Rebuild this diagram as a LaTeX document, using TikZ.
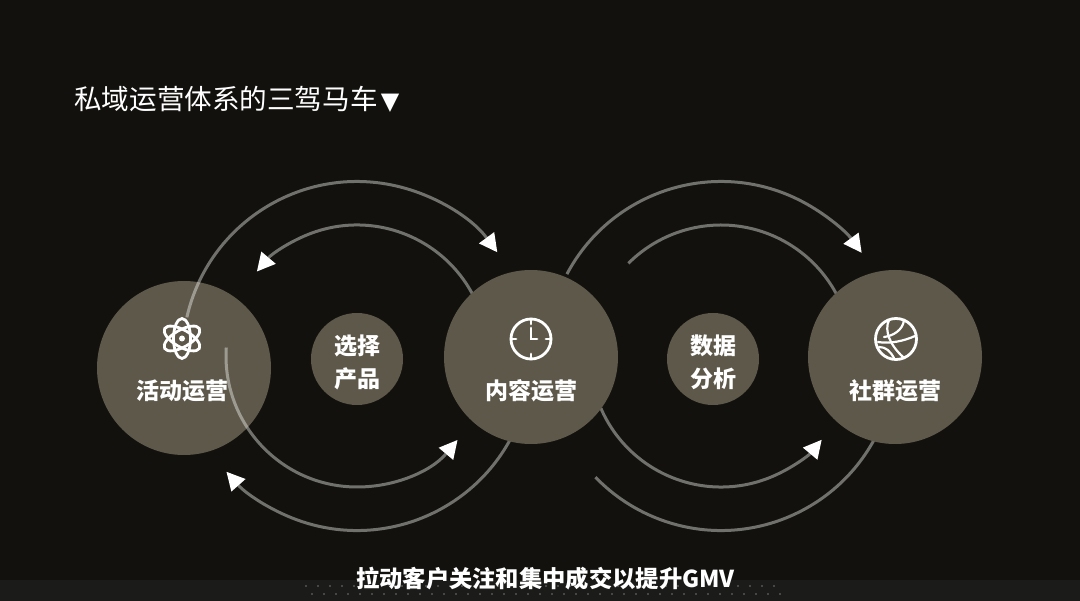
\documentclass[tikz,border=0pt]{standalone}
\usepackage{fontspec}
\setmainfont{Noto Sans CJK SC}
\newfontfamily\symfont{DejaVu Sans}
\usetikzlibrary{arrows.meta,positioning}
\definecolor{pagebg}{HTML}{12110D}
\definecolor{stripbg}{HTML}{1B1B1A}
\definecolor{discfill}{HTML}{5D584A}
\tikzset{
  bigdisc/.style={circle,fill=discfill,minimum size=174pt,inner sep=0pt},
  smalldisc/.style={circle,fill=discfill,minimum size=92pt,inner sep=0pt},
  disclabel/.style={text=white,inner sep=0pt,align=center,font=\fontsize{23pt}{33pt}\selectfont\bfseries},
  ring/.style={draw=white,draw opacity=.4,line width=3pt},
  ringtip/.style={ring,-{Triangle[length=18pt,width=19pt,line width=0pt,fill=white]}},
  iconline/.style={draw=white,line width=2.8pt,line cap=round}
}
\begin{document}
\begin{tikzpicture}[x=1pt,y=-1pt]
   \useasboundingbox (0,0) rectangle (1080,601);
   \fill[pagebg] (0,0) rectangle (1080,601);
   \fill[stripbg] (0,580) rectangle (1080,601);
   % dots of the strip
   \foreach \x in {306,318,...,780}
     \foreach \y/\s in {586/0,594/6}
       \fill[white,opacity=.4] (\x+\s,\y) circle (.8);
   \node[inner sep=0pt,anchor=west,text=white,font=\fontsize{27.6pt}{32pt}\selectfont] (title) at (74,99)
     {私域运营体系的三驾马车\kern3pt{\symfont\fontsize{24pt}{32pt}\selectfont ▼}};
   % left disc lies under the rings, the others over them
   \node[bigdisc] (activity) at (184,368) {};
   \coordinate (hubl) at (357,356);
   \coordinate (hubr) at (721,356);
   \draw[ringtip] ([shift={(-167.2:174.5)}]hubl) arc[start angle=-167.2,end angle=-36.5,radius=174.5];
   \draw[ringtip] ([shift={(-20:131)}]hubl) arc[start angle=-20,end angle=-139.8,radius=131];
   \draw[ringtip] ([shift={(-176.3:131)}]hubl) arc[start angle=-176.3,end angle=-320.1,radius=131];
   \draw[ringtip] ([shift={(20:174.5)}]hubl) arc[start angle=20,end angle=138.4,radius=174.5];
   \draw[ringtip] ([shift={(-152:174.5)}]hubr) arc[start angle=-152,end angle=-36.3,radius=174.5];
   \draw[ring] ([shift={(-135:131)}]hubr) arc[start angle=-135,end angle=-20,radius=131];
   \draw[ringtip] ([shift={(-203.5:131)}]hubr) arc[start angle=-203.5,end angle=-320.2,radius=131];
   \draw[ring] ([shift={(20:174.5)}]hubr) arc[start angle=20,end angle=136,radius=174.5];
   \node[bigdisc] (content) at (531,357) {};
   \node[bigdisc] (community) at (895,357) {};
   \node[smalldisc] (product) at (357,359) {};
   \node[smalldisc] (data) at (713,359) {};
   \node[disclabel] (producttext) at (357,362) {选择\\产品};
   \node[disclabel] (datatext) at (713,362) {数据\\分析};
   \node[disclabel] (activitytext) at (182.5,391) {活动运营};
   \node[disclabel] (contenttext) at (531,391) {内容运营};
   \node[disclabel] (communitytext) at (895,391) {社群运营};
   % atom
   \coordinate (atom) at (182,338.5);
   \foreach \a in {0,60,120}
     \draw[iconline] (atom) ellipse[x radius=8.5,y radius=20,rotate=\a];
   \fill[white] (atom) circle (3);
   % clock
   \coordinate (clock) at (531,339);
   \draw[iconline] (clock) circle (20);
   \foreach \a in {0,90,180,270}
     \draw[iconline] ([shift={(\a:20)}]clock) -- ([shift={(\a:15)}]clock);
   \draw[iconline] ([shift={(-90:11)}]clock) -- (clock) -- ([shift={(0:6)}]clock);
   % ball
   \coordinate (ball) at (896,339);
   \draw[iconline] (ball) circle (20.5);
   \begin{scope}[shift={(ball)},iconline,line width=2.2pt]
     \draw (8,-19) .. controls (7,-9) and (-3,-3) .. (-12,-2);
     \draw (-7,-19) .. controls (-12,-8) and (-6,6) .. (7,18);
     \draw (-18,3) .. controls (-6,5) and (8,2) .. (19,-3);
     \draw (-17,8) .. controls (-10,8) and (-6,12) .. (-2,19);
   \end{scope}
   \node[inner sep=0pt,text=white,font=\fontsize{23.3pt}{28pt}\selectfont\bfseries] (slogan) at (545.5,579)
     {拉动客户关注和集中成交以提升GMV};
\end{tikzpicture}
\end{document}
